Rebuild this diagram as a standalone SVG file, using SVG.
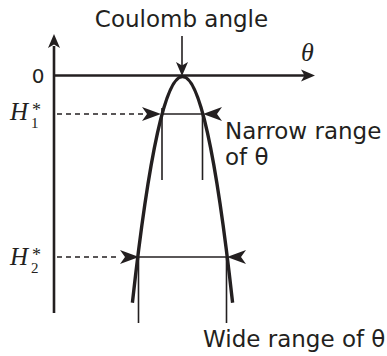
<svg xmlns="http://www.w3.org/2000/svg" width="387" height="356" viewBox="0 0 387 356">
<style>
.ink{fill:#231f20}
.ln{stroke:#231f20;fill:none}
.axis{stroke-width:2.6}
.curve{stroke-width:3.4}
.thin{stroke-width:1.6}
.dash{stroke-width:1.6;stroke-dasharray:5 4}
.sans{font-family:"DejaVu Sans",sans-serif;font-size:23px;fill:#231f20}
.math{font-family:"Liberation Serif",serif;fill:#231f20}
.hl{font-size:25px;font-style:italic}
.sup{font-size:18px;font-style:normal}
.sub{font-size:15px;font-style:normal}
</style>
<defs>
<path id="barb" d="M0,0 L-19,-7 L-14,0 L-19,7 Z" class="ink"/>
<path id="ahead" d="M0,0 L-14,-6 L-10.5,0 L-14,6 Z" class="ink"/>
</defs>
<g id="axes">
<line class="ln axis" x1="54" y1="46" x2="54" y2="313"/>
<use href="#ahead" transform="translate(54,34) rotate(-90)"/>
<line class="ln axis" x1="54" y1="75.5" x2="305" y2="75.5"/>
<use href="#ahead" transform="translate(315,75.5)"/>
<text class="sans" x="38" y="83" text-anchor="middle" style="font-size:20px">0</text>
<text class="math" x="301" y="61" style="font-size:26px;font-style:italic">θ</text>
</g>
<g id="curve">
<path class="ln curve" d="M132.4,302.7 Q182.5,-149.7 232.6,302.7"/>
</g>
<g id="coulomb">
<text class="sans" x="181.5" y="26.5" text-anchor="middle">Coulomb angle</text>
</g>
<g id="h1">
<text class="math hl" x="10" y="120">H<tspan class="sup" dx="4" dy="-4">*</tspan><tspan class="sub" dx="-10" dy="12">1</tspan></text>
</g>
<g id="h2">
<text class="math hl" x="10" y="265">H<tspan class="sup" dx="4" dy="-4">*</tspan><tspan class="sub" dx="-10" dy="12">2</tspan></text>
</g>
<g id="narrow">
<text class="sans" x="225" y="138.7">Narrow range</text>
<text class="sans" x="225" y="165">of θ</text>
</g>
<g id="wide">
<text class="sans" x="203" y="346.5">Wide range of θ</text>
</g>
<g id="connectors">
<line class="ln thin" x1="182" y1="36" x2="182" y2="66"/>
<use href="#ahead" transform="translate(182,76) rotate(90)" />
<line class="ln dash" x1="57" y1="114" x2="143" y2="114"/>
<use href="#barb" transform="translate(161,114)"/>
<line class="ln thin" x1="162" y1="114" x2="202.5" y2="114"/>
<use href="#barb" transform="translate(203,114) rotate(180)"/>
<line class="ln thin" x1="162" y1="108" x2="162" y2="180"/>
<line class="ln thin" x1="202.5" y1="114" x2="202.5" y2="180"/>
<line class="ln dash" x1="57" y1="257" x2="120" y2="257"/>
<use href="#barb" transform="translate(139,257)"/>
<line class="ln thin" x1="138.5" y1="257" x2="226.5" y2="257"/>
<use href="#barb" transform="translate(227,257) rotate(180)"/>
<line class="ln thin" x1="138.5" y1="257" x2="138.5" y2="323"/>
<line class="ln thin" x1="226.5" y1="257" x2="226.5" y2="323"/>
</g>
</svg>
